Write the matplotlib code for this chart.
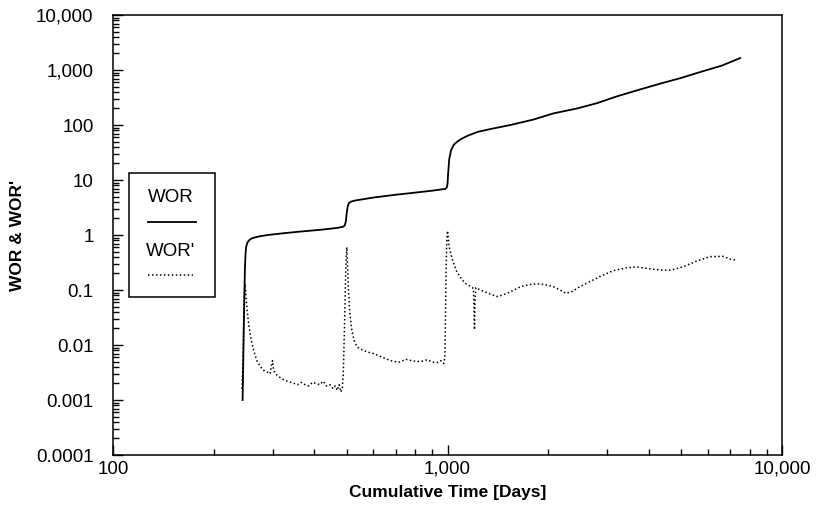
import matplotlib
matplotlib.use("Agg")
import matplotlib.pyplot as plt
from matplotlib.lines import Line2D
from matplotlib.patches import Rectangle
from matplotlib.ticker import LogLocator, FixedLocator, FuncFormatter, NullFormatter

plt.rcParams['font.family'] = ['Liberation Sans', 'DejaVu Sans']

# water-oil ratio vs cumulative time
wor_days = [244, 245, 246, 247, 248, 249, 250, 252, 255, 260, 265, 275, 290, 320,
            360, 420, 470, 488, 493, 497, 500, 503, 507, 515, 530, 550, 600, 700,
            800, 900, 985, 995, 1000, 1005, 1012, 1025, 1045, 1070, 1100, 1150,
            1230, 1350, 1540, 1800, 2075, 2440, 2800, 3200, 3700, 4300, 5000,
            5800, 6600, 7500]
wor = [0.001, 0.004, 0.02, 0.08, 0.25, 0.45, 0.6, 0.72, 0.8, 0.87, 0.9, 0.95, 1.0,
       1.07, 1.15, 1.25, 1.35, 1.42, 1.5, 1.8, 2.6, 3.3, 3.8, 4.05, 4.25, 4.4, 4.8,
       5.4, 5.9, 6.4, 6.9, 7.3, 8.5, 14, 24, 35, 44, 50, 56, 64, 75, 85, 100, 125,
       163, 200, 250, 330, 430, 560, 720, 950, 1200, 1650]

# derivative WOR'
dwor_days = [243, 244, 245, 246, 247, 248, 249, 250, 252, 255, 258, 262, 266, 270,
             275, 280, 285, 290, 295, 298, 300, 302, 306, 312, 318, 325, 332, 340,
             348, 356, 365, 375, 385, 395, 405, 415, 425, 435, 445, 455, 462, 468,
             474, 480, 485, 488, 492, 495, 498, 500, 502, 505, 510, 518, 528, 540,
             555, 575, 600, 630, 660, 690, 720, 750, 780, 810, 840, 870, 900, 930,
             955, 975, 982, 986, 990, 995, 1000, 1005, 1012, 1023, 1040, 1066, 1100,
             1130, 1165, 1195, 1200, 1204, 1208, 1215, 1253, 1320, 1400, 1450, 1506,
             1580, 1653, 1750, 1850, 1960, 2075, 2170, 2260, 2370, 2485, 2650, 2850,
             3130, 3450, 3680, 3900, 4120, 4400, 4640, 4900, 5120, 5560, 6090, 6660,
             7050, 7300]
dwor = [0.0016, 0.003, 0.008, 0.03, 0.08, 0.13, 0.11, 0.07, 0.04, 0.022, 0.014,
        0.009, 0.0065, 0.005, 0.0042, 0.0036, 0.0033, 0.0032, 0.003, 0.0045, 0.0052,
        0.0035, 0.003, 0.0027, 0.0025, 0.0023, 0.0022, 0.0021, 0.0020, 0.0019,
        0.0021, 0.0019, 0.0018, 0.0021, 0.0020, 0.0019, 0.0022, 0.0018, 0.0019,
        0.0016, 0.0018, 0.0015, 0.0019, 0.0014, 0.0017, 0.003, 0.02, 0.12, 0.4, 0.6,
        0.35, 0.12, 0.04, 0.018, 0.011, 0.009, 0.0082, 0.0075, 0.007, 0.0062, 0.0055,
        0.005, 0.0049, 0.0055, 0.0052, 0.005, 0.0051, 0.0054, 0.0049, 0.0048, 0.0052,
        0.0046, 0.006, 0.03, 0.2, 0.8, 1.2, 0.9, 0.6, 0.46, 0.32, 0.215, 0.16, 0.132,
        0.118, 0.107, 0.05, 0.019, 0.06, 0.11, 0.1, 0.088, 0.076, 0.08, 0.087, 0.1,
        0.115, 0.125, 0.13, 0.125, 0.115, 0.1, 0.087, 0.095, 0.115, 0.14, 0.175,
        0.225, 0.255, 0.263, 0.25, 0.238, 0.23, 0.23, 0.25, 0.273, 0.337, 0.404,
        0.41, 0.36, 0.35]

y_decades = [1e-4, 1e-3, 1e-2, 1e-1, 1, 10, 100, 1000, 10000]
x_decades = [100, 1000, 10000]


def fmt(v, pos=None):
    if v >= 1:
        return f"{v:,.0f}"
    return f"{v:g}"


fig = plt.figure(figsize=(8.17, 5.18), dpi=100)
ax = fig.add_axes([0.1383, 0.1216, 0.8189, 0.8494])

ax.plot(wor_days, wor, color='black', lw=1.3)
ax.plot(dwor_days, dwor, color='black', lw=1.1, ls=(0, (1, 1.6)))

ax.set_xscale('log')
ax.set_yscale('log')
ax.set_xlim(100, 10000)
ax.set_ylim(1e-4, 1e4)

ax.xaxis.set_major_locator(FixedLocator(x_decades))
ax.yaxis.set_major_locator(FixedLocator(y_decades))
ax.xaxis.set_minor_locator(LogLocator(base=10, subs=range(2, 10), numticks=20))
ax.yaxis.set_minor_locator(LogLocator(base=10, subs=range(2, 10), numticks=20))
ax.xaxis.set_major_formatter(FuncFormatter(fmt))
ax.yaxis.set_major_formatter(FuncFormatter(fmt))
ax.xaxis.set_minor_formatter(NullFormatter())
ax.yaxis.set_minor_formatter(NullFormatter())

ax.tick_params(which='both', direction='in', top=False, right=False, width=1)
ax.tick_params(which='major', length=7, labelsize=13.5)
ax.tick_params(which='minor', length=4.5)
ax.tick_params(axis='y', which='major', pad=14)
ax.tick_params(axis='x', which='major', pad=4)

for sp in ax.spines.values():
    sp.set_linewidth(1.1)

ax.set_xlabel('Cumulative Time [Days]', fontsize=12.5, fontweight='bold', labelpad=5)
ax.set_ylabel("WOR & WOR'", fontsize=12.5, fontweight='bold', labelpad=8)

# boxed legend with the label above each line sample
ax.add_patch(Rectangle((0.0240, 0.359), 0.1286, 0.282, transform=ax.transAxes,
                       fill=False, lw=1.1, edgecolor='black'))
ax.text(0.0860, 0.586, 'WOR', transform=ax.transAxes, ha='center', va='center', fontsize=13.5)
ax.add_line(Line2D([0.0520, 0.1237], [0.5295, 0.5295], transform=ax.transAxes,
                   color='black', lw=1.3))
ax.text(0.0860, 0.4636, "WOR'", transform=ax.transAxes, ha='center', va='center', fontsize=13.5)
ax.add_line(Line2D([0.0523, 0.1195], [0.409, 0.409], transform=ax.transAxes,
                   color='black', lw=1.1, ls=(0, (1, 1.6))))

fig.savefig('out.png', dpi=100)
